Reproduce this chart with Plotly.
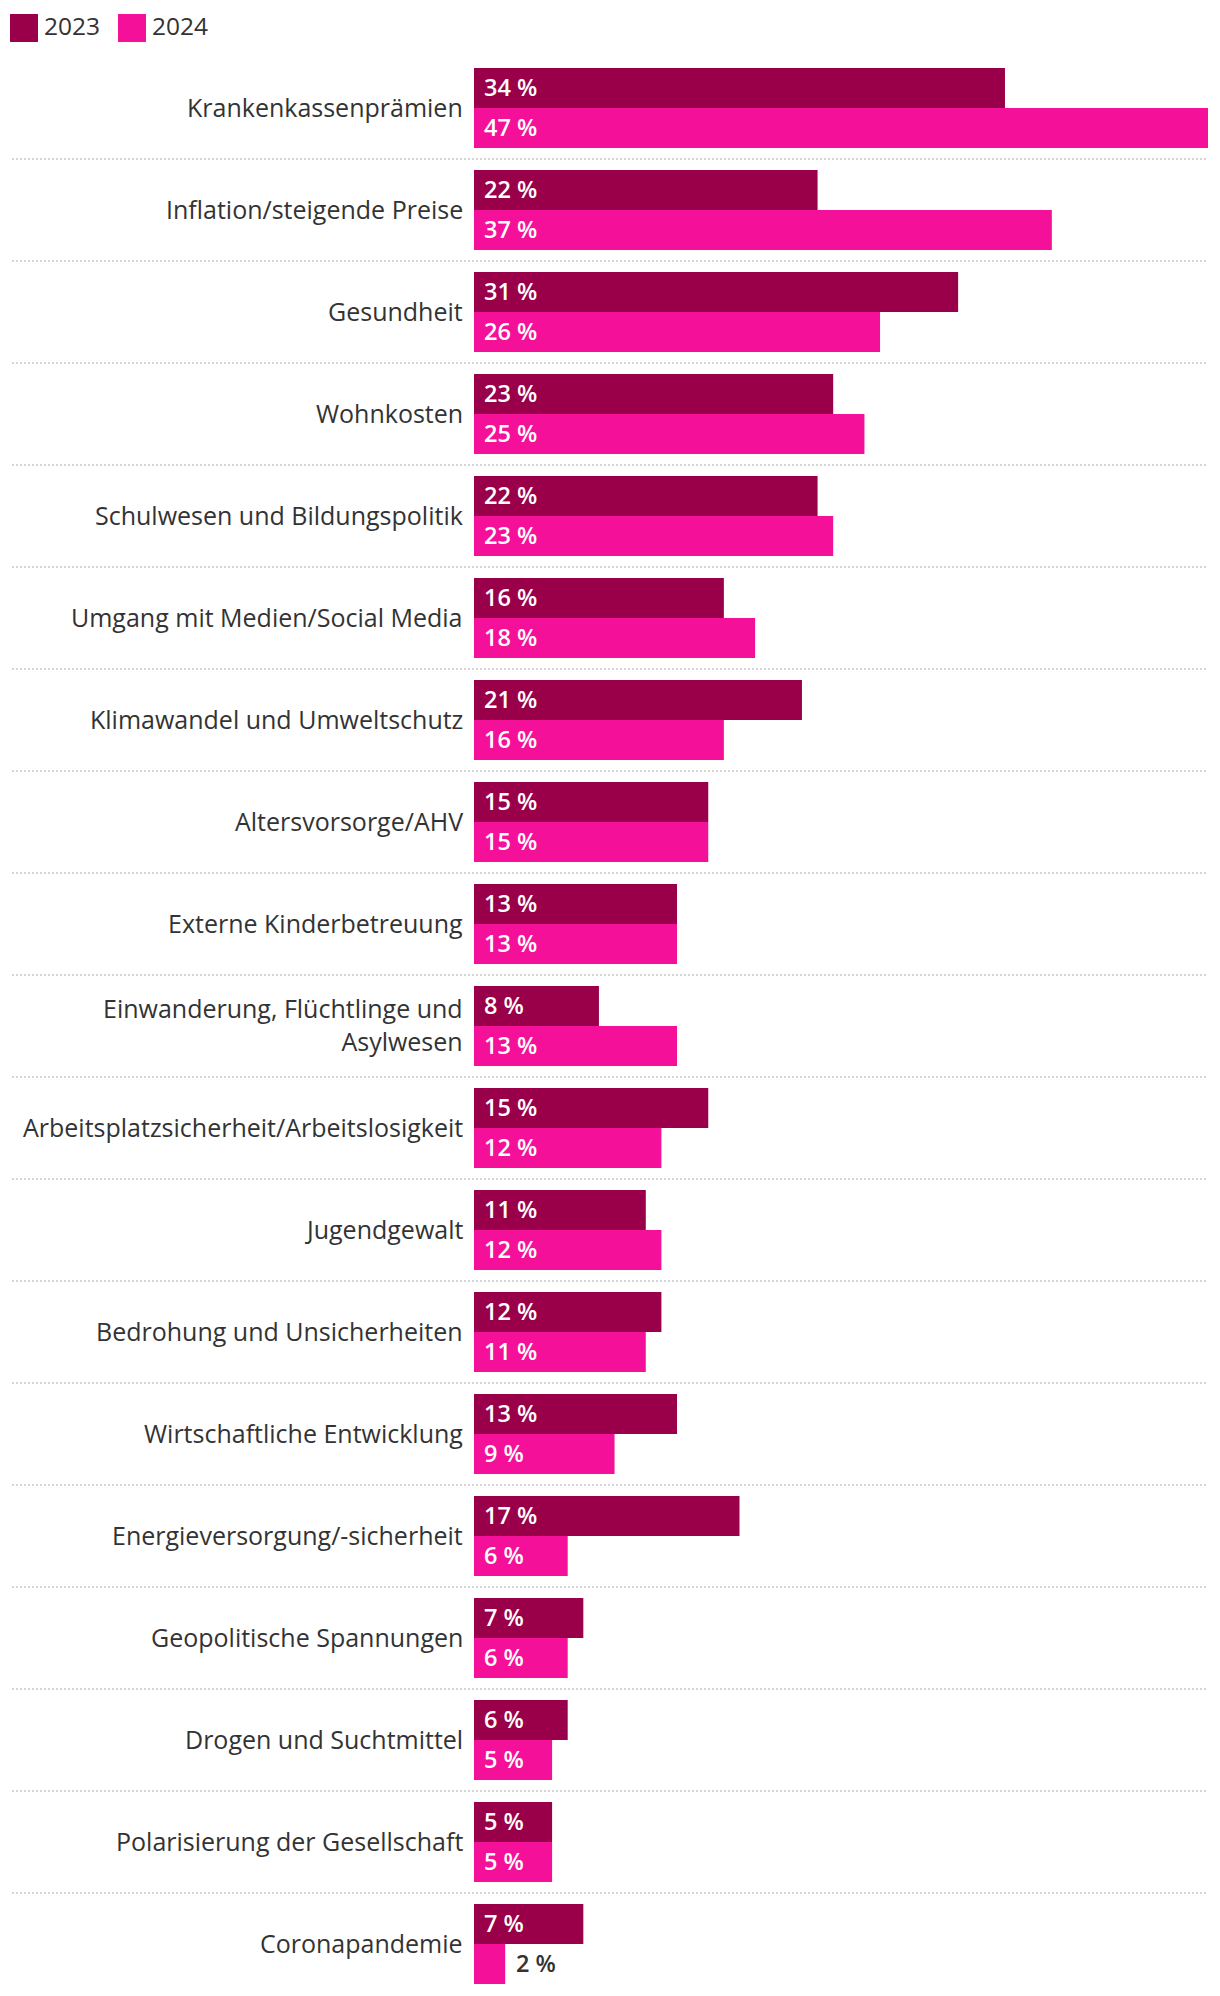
import plotly.graph_objects as go

# Sorgen der Bevölkerung, Anteil Nennungen in %
categories = [
    "Krankenkassenprämien",
    "Inflation/steigende Preise",
    "Gesundheit",
    "Wohnkosten",
    "Schulwesen und Bildungspolitik",
    "Umgang mit Medien/Social Media",
    "Klimawandel und Umweltschutz",
    "Altersvorsorge/AHV",
    "Externe Kinderbetreuung",
    "Einwanderung, Flüchtlinge und<br>Asylwesen",
    "Arbeitsplatzsicherheit/Arbeitslosigkeit",
    "Jugendgewalt",
    "Bedrohung und Unsicherheiten",
    "Wirtschaftliche Entwicklung",
    "Energieversorgung/-sicherheit",
    "Geopolitische Spannungen",
    "Drogen und Suchtmittel",
    "Polarisierung der Gesellschaft",
    "Coronapandemie",
]
values_2023 = [34, 22, 31, 23, 22, 16, 21, 15, 13, 8, 15, 11, 12, 13, 17, 7, 6, 5, 7]
values_2024 = [47, 37, 26, 25, 23, 18, 16, 15, 13, 13, 12, 12, 11, 9, 6, 6, 5, 5, 2]
series_names = ["2023", "2024"]

COL_2023 = "#990049"
COL_2024 = "#F5109A"
TEXT_COL = "#333333"
FONT = "Open Sans, Noto Sans, sans-serif"

fig = go.Figure()
for name, vals, col in zip(series_names, [values_2023, values_2024], [COL_2023, COL_2024]):
    fig.add_trace(go.Bar(
        x=vals, y=categories, name=name, orientation="h",
        marker=dict(color=col, line=dict(width=0)),
        showlegend=False, hoverinfo="x+y",
    ))

annotations = []
# category labels
for cat in categories:
    annotations.append(dict(
        x=0, y=cat, xref="x", yref="y", text=cat, showarrow=False,
        xanchor="right", yanchor="middle", align="right", xshift=-9, yshift=1.5,
        font=dict(family=FONT, size=25, color=TEXT_COL),
    ))

# value labels (inside the bar, or just right of it when the bar is too short)
for vals, shift in [(values_2023, 21.5), (values_2024, -18.5)]:
    for cat, v in zip(categories, vals):
        inside = v >= 4
        annotations.append(dict(
            x=0 if inside else v, y=cat, xref="x", yref="y", text=f"{v} %",
            showarrow=False, xanchor="left", yanchor="middle",
            xshift=8 if inside else 9, yshift=shift,
            font=dict(family=FONT, size=23.5, weight=600,
                      color="white" if inside else TEXT_COL),
        ))

# hand-made legend (large square swatches)
shapes = []
leg_x = [-464, -356]
for name, col, lx in zip(series_names, [COL_2023, COL_2024], leg_x):
    shapes.append(dict(
        type="rect", xref="paper", yref="paper", xsizemode="pixel", ysizemode="pixel",
        xanchor=0, yanchor=1, x0=lx, x1=lx + 28, y0=43, y1=15,
        fillcolor=col, line=dict(width=0),
    ))
    annotations.append(dict(
        x=0, y=1, xref="paper", yref="paper", text=name, showarrow=False,
        xanchor="left", yanchor="middle", xshift=lx + 32, yshift=32,
        font=dict(family=FONT, size=24.5, color=TEXT_COL),
    ))

# dotted separators between rows
for i in range(len(categories) - 1):
    shapes.append(dict(
        type="line", xref="paper", yref="y", x0=-0.6294, x1=1, y0=i + 0.5, y1=i + 0.5,
        line=dict(color="#d6d6d6", width=2, dash="2px,2px"),
    ))

# page has an 8px body margin, so the figure is 8px smaller than the window
fig.update_layout(
    width=1212, height=1988,
    margin=dict(l=466, r=12, t=49, b=1),
    barmode="group", bargap=0.2157, bargroupgap=0,
    plot_bgcolor="white", paper_bgcolor="white",
    font=dict(family=FONT, color=TEXT_COL),
    xaxis=dict(range=[0, 47], visible=False, fixedrange=True),
    yaxis=dict(categoryorder="array", categoryarray=categories,
               range=[len(categories) - 0.5, -0.5], visible=False, fixedrange=True),
    annotations=annotations, shapes=shapes,
)

fig.write_html("out.html")
